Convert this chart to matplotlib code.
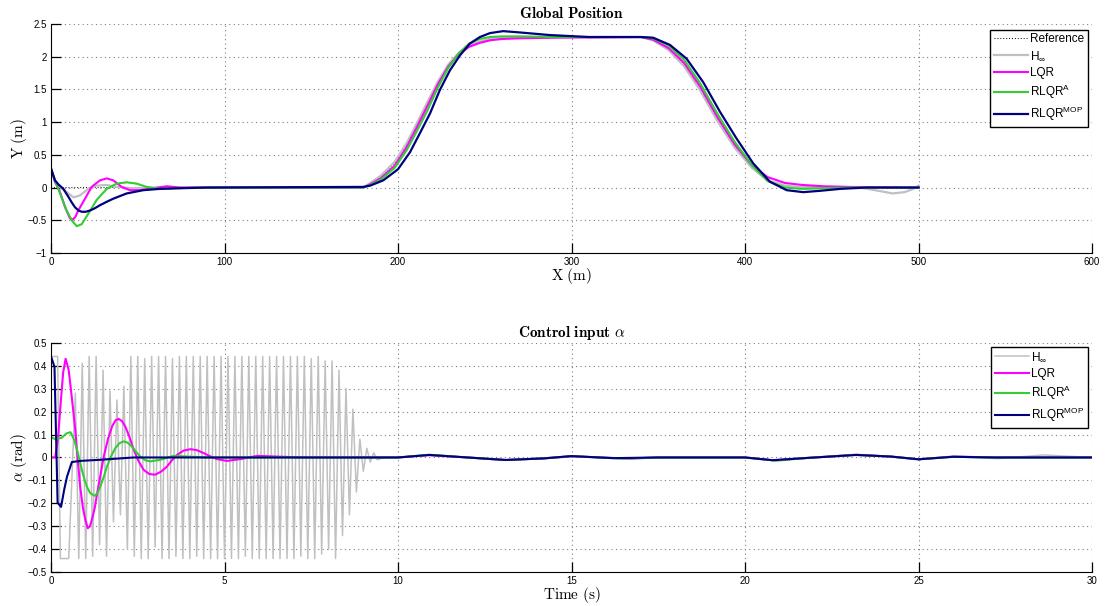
import matplotlib
matplotlib.use("Agg")
import matplotlib.pyplot as plt
from matplotlib.ticker import FuncFormatter

plt.rcParams['font.family'] = ['Liberation Sans', 'DejaVu Sans']
plt.rcParams['mathtext.fontset'] = 'custom'
plt.rcParams['mathtext.rm'] = 'Liberation Sans'
plt.rcParams['mathtext.it'] = 'Liberation Sans:italic'
plt.rcParams['mathtext.bf'] = 'Liberation Sans:bold'

# ---- global position (X, Y) ----
ref_x = [0, 180, 184, 190, 198, 205, 211, 217, 223, 229, 235, 241, 247, 253, 260,
         270, 290, 340, 347, 356, 365, 374, 384, 394, 404, 413, 423, 433, 500]
ref_y = [0, 0, 0.06, 0.16, 0.36, 0.65, 0.96, 1.28, 1.60, 1.86, 2.05, 2.16, 2.22,
         2.26, 2.28, 2.29, 2.30, 2.30, 2.26, 2.12, 1.88, 1.52, 1.05, 0.63, 0.32,
         0.12, 0.03, 0, 0]

hinf_x = [0, 2.3, 5, 9.1, 12.9, 16.7, 21.5, 26.3, 32, 37.8, 47.4, 60, 180, 184,
          190, 198, 205, 211, 217, 223, 229, 235, 241, 247, 253, 260, 270, 290,
          340, 347, 356, 365, 374, 384, 394, 404, 413, 423, 433, 466, 475, 485,
          492, 497, 500]
hinf_y = [0.29, 0.08, 0.01, -0.07, -0.15, -0.12, -0.02, 0.03, 0.04, 0.01, -0.01,
          0, 0, 0.07, 0.18, 0.39, 0.68, 0.99, 1.31, 1.62, 1.88, 2.06, 2.17, 2.23,
          2.27, 2.29, 2.30, 2.30, 2.30, 2.25, 2.10, 1.85, 1.49, 1.02, 0.61, 0.30,
          0.11, 0.03, 0.01, 0, -0.04, -0.09, -0.07, -0.02, 0.03]

lqr_x = [0, 2.3, 5.2, 8.1, 10.9, 12.5, 14, 15.7, 19.6, 23.4, 28.2, 32.1, 35.9,
         40.7, 45.5, 51.3, 59, 66.7, 74.3, 90, 180, 184, 190, 198, 205, 211, 217,
         223, 229, 235, 241, 247, 253, 260, 270, 290, 340, 347, 356, 365, 374,
         384, 394, 404, 413, 423, 433, 445, 460, 500]
lqr_y = [0.29, 0.09, -0.07, -0.30, -0.47, -0.49, -0.45, -0.35, -0.17, 0.01, 0.11,
         0.14, 0.11, 0.01, -0.04, -0.04, -0.01, 0.02, 0, 0, 0, 0.05, 0.14, 0.33,
         0.62, 0.93, 1.25, 1.58, 1.85, 2.04, 2.15, 2.21, 2.25, 2.27, 2.28, 2.29,
         2.30, 2.26, 2.13, 1.90, 1.55, 1.08, 0.66, 0.34, 0.16, 0.07, 0.04, 0.02,
         0.01, 0]

rlqra_x = [0, 2.3, 5.2, 9, 11.9, 14.8, 17.7, 21.5, 26.3, 32.1, 37.8, 43.6, 49.4,
           55.1, 62.8, 73, 86, 180, 184, 190, 198, 205, 211, 217, 223, 229, 235,
           241, 247, 253, 260, 270, 290, 340, 347, 356, 365, 374, 384, 394, 404,
           413, 423, 433, 445, 460, 500]
rlqra_y = [0.29, 0.11, -0.09, -0.35, -0.50, -0.59, -0.56, -0.40, -0.19, -0.02,
           0.06, 0.08, 0.06, 0.01, -0.02, -0.01, 0, 0, 0.04, 0.12, 0.30, 0.57,
           0.87, 1.18, 1.53, 1.83, 2.05, 2.20, 2.27, 2.30, 2.31, 2.31, 2.30, 2.30,
           2.28, 2.17, 1.95, 1.60, 1.13, 0.70, 0.34, 0.10, 0.0, -0.02, -0.01, 0, 0]

mop_x = [0, 2.3, 4.2, 7.1, 10, 12, 13.8, 15.8, 17.7, 20, 22.5, 25, 28.2, 31.9,
         35.9, 43.6, 53.2, 62.8, 74.3, 90, 180, 184, 191.5, 200, 206.9, 212.6,
         218.4, 224.1, 229.9, 235.7, 241.4, 247.2, 253, 260.6, 270.2, 287.5, 310,
         340, 347, 356.7, 366.3, 375.9, 385.5, 395.1, 404.7, 414.3, 424, 433.5,
         443.1, 455, 470, 500]
mop_y = [0.29, 0.11, 0.05, -0.02, -0.14, -0.23, -0.30, -0.35, -0.37, -0.37, -0.35,
         -0.32, -0.27, -0.22, -0.17, -0.09, -0.04, -0.02, -0.01, 0, 0.01, 0.03,
         0.11, 0.28, 0.54, 0.83, 1.13, 1.49, 1.79, 2.02, 2.20, 2.30, 2.36, 2.39,
         2.37, 2.33, 2.30, 2.30, 2.29, 2.18, 1.97, 1.61, 1.16, 0.75, 0.37, 0.09,
         -0.04, -0.07, -0.05, -0.02, 0, 0]

# ---- control input alpha vs time ----
hinf_t = [0, 0.19, 0.27, 0.51,
          0.7, 0.8, 0.9, 1.0, 1.1, 1.2, 1.3, 1.4, 1.5, 1.6, 1.7, 1.8, 1.9, 2.0,
          2.1, 2.2, 2.3, 2.4, 2.5, 2.6, 2.7, 2.8, 2.9, 3.0, 3.1, 3.2, 3.3, 3.4,
          3.5, 3.6, 3.7, 3.8, 3.9, 4.0, 4.1, 4.2, 4.3, 4.4, 4.5, 4.6, 4.7, 4.8,
          4.9, 5.0, 5.1, 5.2, 5.3, 5.4, 5.5, 5.6, 5.7, 5.8, 5.9, 6.0, 6.1, 6.2,
          6.3, 6.4, 6.5, 6.6, 6.7, 6.8, 6.9, 7.0, 7.1, 7.2, 7.3, 7.4, 7.5, 7.6,
          7.7, 7.8, 7.9, 8.0, 8.1, 8.2, 8.3, 8.4, 8.5, 8.6, 8.7, 8.8, 8.9, 9.0,
          9.1, 9.2, 9.3, 9.4, 9.6, 10, 10.9, 12, 13.1, 14.2, 15.0, 16.2, 17.5,
          20, 20.8, 21.8, 23.2, 24.2, 25.0, 26.0, 27.3, 28.6, 30]
hinf_a = [0.44, 0.44, -0.44, -0.44,
          0.28, -0.44, 0.41, -0.44, 0.44, -0.43, 0.44, -0.38, 0.38, -0.43, 0.29,
          -0.28, 0.25, -0.25, 0.31, -0.40, 0.44, -0.43, 0.44, -0.44, 0.43, -0.44,
          0.44, -0.39, 0.44, -0.44, 0.44, -0.44, 0.43, -0.43, 0.44, -0.44, 0.44,
          -0.44, 0.44, -0.43, 0.44, -0.44, 0.44, -0.44, 0.44, -0.44, 0.44, -0.44,
          0.44, -0.44, 0.44, -0.44, 0.44, -0.43, 0.44, -0.44, 0.44, -0.44, 0.44,
          -0.44, 0.44, -0.44, 0.44, -0.44, 0.44, -0.44, 0.44, -0.44, 0.44, -0.43,
          0.44, -0.44, 0.43, -0.44, 0.44, -0.42, 0.42, -0.40, 0.42, -0.44, 0.38,
          -0.34, 0.30, -0.25, 0.21, -0.15, 0.08, -0.06, 0.04, -0.02, 0.02, -0.01,
          0, 0, 0.011, 0.0, -0.011, -0.004, 0.006, -0.003, 0, 0, -0.012, -0.002,
          0.011, 0.004, -0.008, 0.003, -0.005, 0.011, 0]

lqr_t = [0, 0.12, 0.2, 0.28, 0.35, 0.42, 0.51, 0.6, 0.70, 0.77, 0.84, 0.92, 0.99,
         1.06, 1.12, 1.18, 1.26, 1.33, 1.42, 1.52, 1.64, 1.76, 1.86, 1.95, 2.05,
         2.14, 2.26, 2.38, 2.52, 2.67, 2.83, 3.0, 3.17, 3.34, 3.48, 3.63, 3.82,
         4.02, 4.2, 4.4, 4.6, 4.78, 5.07, 5.46, 5.94, 6.51, 7.2, 10, 10.9, 12,
         13.1, 14.2, 15.0, 16.7, 17.5, 20, 20.8, 21.8, 23.2, 24.2, 25.0, 26.0,
         27.2, 30]
lqr_a = [0, 0.0, 0.08, 0.24, 0.37, 0.43, 0.38, 0.26, 0.12, -0.01, -0.127, -0.22,
         -0.272, -0.308, -0.30, -0.27, -0.22, -0.155, -0.08, 0.004, 0.08, 0.135,
         0.162, 0.168, 0.158, 0.135, 0.09, 0.035, -0.015, -0.054, -0.072, -0.075,
         -0.062, -0.04, -0.013, 0.011, 0.03, 0.036, 0.032, 0.019, 0.004, -0.007,
         -0.015, -0.007, 0.007, 0.004, 0, 0, 0.010, 0.0, -0.011, -0.004, 0.005,
         -0.005, 0, 0, -0.012, -0.002, 0.012, 0.004, -0.008, 0.004, 0, 0]

rlqra_t = [0, 0.12, 0.3, 0.45, 0.56, 0.66, 0.75, 0.85, 0.94, 1.04, 1.13, 1.26, 1.34,
           1.42, 1.52, 1.61, 1.73, 1.85, 1.97, 2.09, 2.2, 2.33, 2.45, 2.57, 2.72,
           2.86, 3.15, 3.53, 3.92, 4.5, 10, 10.9, 12, 13.1, 14.2, 15.0, 16.5, 17.5,
           20, 20.9, 21.8, 23.2, 24.2, 25.0, 26.0, 27.2, 30]
rlqra_a = [0.088, 0.08, 0.085, 0.105, 0.11, 0.08, 0.033, -0.03, -0.083, -0.13,
           -0.155, -0.167, -0.155, -0.127, -0.085, -0.04, 0.005, 0.04, 0.062,
           0.07, 0.065, 0.048, 0.025, 0.004, -0.012, -0.017, -0.01, 0.007, 0.004,
           0, 0, 0.012, 0.0, -0.011, -0.004, 0.006, -0.005, 0, 0, -0.014, -0.002,
           0.011, 0.004, -0.008, 0.003, 0, 0]

mop_t = [0, 0.1, 0.19, 0.29, 0.38, 0.46, 0.6, 0.84, 1.42, 2.38, 3, 10, 10.9, 12,
         13.1, 14.2, 15.0, 16.2, 17.5, 20, 20.8, 21.8, 23.2, 24.2, 25.0, 26.0,
         27.2, 30]
mop_a = [0.44, 0.395, -0.197, -0.215, -0.14, -0.084, -0.02, -0.015, -0.01, 0.0, 0,
         0, 0.011, 0.0, -0.011, -0.004, 0.006, -0.003, 0, 0, -0.012, -0.002, 0.011,
         0.004, -0.008, 0.003, 0, 0]

c_hinf = '#c0c0c0'
c_lqr = '#ff00ff'
c_rlqra = '#33cc33'
c_mop = '#000080'


def num_fmt(v, pos):
    return '{:g}'.format(round(v, 2)).replace('-', '\u2212')


def style_axes(ax):
    ax.spines['top'].set_visible(False)
    ax.spines['right'].set_visible(False)
    ax.grid(True, linestyle=(0, (1, 3)), color='0.5', linewidth=0.8)
    ax.tick_params(direction='in', length=7, width=0.9, labelsize=7,
                   colors='black', pad=3)
    ax.yaxis.set_major_formatter(FuncFormatter(num_fmt))
    ax.xaxis.set_major_formatter(FuncFormatter(num_fmt))


def add_legend(ax, top):
    leg = ax.legend(loc='upper right', bbox_to_anchor=(0.996, top), fontsize=8.5,
                    handlelength=2.9, handletextpad=0.2, labelspacing=0.35,
                    borderpad=0.3, fancybox=False, framealpha=1, borderaxespad=0)
    leg.get_frame().set_edgecolor('black')
    leg.get_frame().set_linewidth(1.0)


fig = plt.figure(figsize=(11.09, 6.06), dpi=100)
ax1 = fig.add_axes([0.046, 0.5825, 0.9387, 0.378])
ax2 = fig.add_axes([0.046, 0.0556, 0.9387, 0.379])

ax1.plot(ref_x, ref_y, color='black', linestyle=(0, (1, 2)), linewidth=0.7,
         label='Reference')
ax1.plot(hinf_x, hinf_y, color=c_hinf, linewidth=1.6, label=r'H$_{\infty}$')
ax1.plot(lqr_x, lqr_y, color=c_lqr, linewidth=1.5, label='LQR')
ax1.plot(rlqra_x, rlqra_y, color=c_rlqra, linewidth=1.5, label=r'RLQR$^{\mathrm{A}}$')
ax1.plot(mop_x, mop_y, color=c_mop, linewidth=1.6, label=r'RLQR$^{\mathrm{MOP}}$')
ax1.set_xlim(0, 600)
ax1.set_ylim(-1, 2.5)
ax1.set_xticks(range(0, 601, 100))
ax1.set_yticks([-1, -0.5, 0, 0.5, 1, 1.5, 2, 2.5])
style_axes(ax1)
ax1.set_title(r'$\mathbf{Global\ Position}$', math_fontfamily='cm',
              fontsize=11, pad=4)
ax1.set_xlabel(r'$\mathrm{X\ (m)}$', math_fontfamily='cm', fontsize=11, labelpad=-1)
ax1.set_ylabel(r'$\mathrm{Y\ (m)}$', math_fontfamily='cm', fontsize=11, labelpad=-1)
add_legend(ax1, 0.974)

ax2.plot(hinf_t, hinf_a, color=c_hinf, linewidth=1.1, label=r'H$_{\infty}$')
ax2.plot(lqr_t, lqr_a, color=c_lqr, linewidth=1.5, label='LQR')
ax2.plot(rlqra_t, rlqra_a, color=c_rlqra, linewidth=1.5, label=r'RLQR$^{\mathrm{A}}$')
ax2.plot(mop_t, mop_a, color=c_mop, linewidth=1.5, label=r'RLQR$^{\mathrm{MOP}}$')
ax2.set_xlim(0, 30)
ax2.set_ylim(-0.5, 0.5)
ax2.set_xticks(range(0, 31, 5))
ax2.set_yticks([-0.5, -0.4, -0.3, -0.2, -0.1, 0, 0.1, 0.2, 0.3, 0.4, 0.5])
style_axes(ax2)
ax2.set_title(r'$\mathbf{Control\ input}\ \alpha$', math_fontfamily='cm',
              fontsize=11, pad=4)
ax2.set_xlabel(r'$\mathrm{Time\ (s)}$', math_fontfamily='cm', fontsize=11,
               labelpad=-1)
ax2.set_ylabel(r'$\alpha\ \mathrm{(rad)}$', math_fontfamily='cm', fontsize=11,
               labelpad=-1)
add_legend(ax2, 0.981)

fig.savefig('out.png', dpi=100)
